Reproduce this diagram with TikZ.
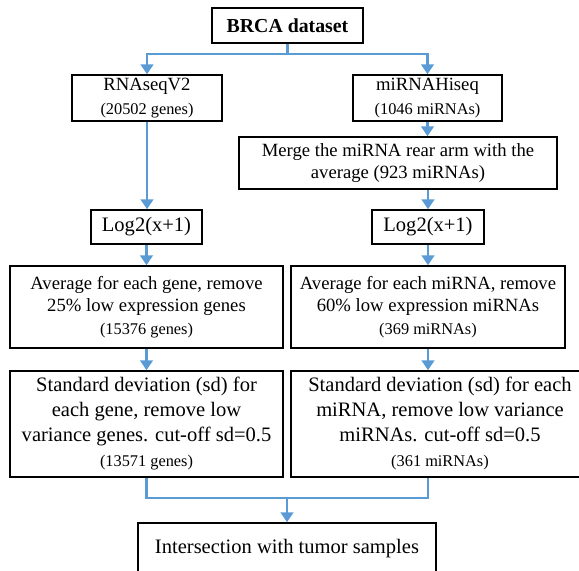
\documentclass[tikz,border=0pt]{standalone}
\usepackage{fontspec}
\setmainfont{Liberation Serif}
\usetikzlibrary{arrows.meta}
\definecolor{arrowblue}{HTML}{5B9BD5}
\newcommand{\px}[1]{#1*0.75pt}
\newcommand{\smalltxt}[1]{{\fontsize{12.25}{14}\selectfont #1}}
\begin{document}
\begin{tikzpicture}[x=0.75pt,y=-0.75pt,
  box/.style={draw=black, line width=1.1pt, fill=white, inner sep=0pt, align=center,
    font=\fontsize{14}{17}\selectfont},
  bigbox/.style={box, font=\fontsize{15.4}{18.75}\selectfont},
  arr/.style={draw=arrowblue, line width=1.8pt, -{Triangle[width=9.5pt,length=7.5pt]}},
  conn/.style={draw=arrowblue, line width=1.8pt}]
\useasboundingbox (0,0) rectangle (579,571);
\clip (0,0) rectangle (579,571);

\node[box, font=\bfseries\fontsize{14.85}{17}\selectfont, minimum width=\px{151}, minimum height=\px{35}] (brca) at (287.5,25.5) {BRCA dataset};

\node[box, font=\fontsize{14}{17.6}\selectfont, minimum width=\px{150}, minimum height=\px{46}] (rna) at (147,98) {RNAseqV2\\\smalltxt{(20502 genes)}};
\node[box, font=\fontsize{14}{17.6}\selectfont, minimum width=\px{149}, minimum height=\px{46}] (mir) at (427.5,98) {miRNAHiseq\\\smalltxt{(1046 miRNAs)}};

\node[box, font=\fontsize{14}{16.5}\selectfont, minimum width=\px{318}, minimum height=\px{52}] (merge) at (398,163) {Merge the miRNA rear arm with the\\average (923 miRNAs)};

\node[bigbox, minimum width=\px{111}, minimum height=\px{34}] (logL) at (146.5,227) {Log2(x+1)};
\node[bigbox, minimum width=\px{112}, minimum height=\px{34}] (logR) at (428,227) {Log2(x+1)};

\node[box, minimum width=\px{273}, minimum height=\px{82}] (avgL) at (146.5,307) {Average for each gene, remove\\25\% low expression genes\\\smalltxt{(15376 genes)}};
\node[box, minimum width=\px{274}, minimum height=\px{82}] (avgR) at (428,307) {Average for each miRNA, remove\\60\% low expression miRNAs\\\smalltxt{(369 miRNAs)}};

\node[bigbox, minimum width=\px{273}, minimum height=\px{106}] (sdL) at (146.5,424) {Standard deviation (sd) for\\each gene, remove low\\variance genes. cut-off sd=0.5\\\smalltxt{(13571 genes)}};
\node[bigbox, minimum width=\px{298}, minimum height=\px{106}] (sdR) at (440,424) {Standard deviation (sd) for each\\miRNA, remove low variance\\miRNAs. cut-off sd=0.5\\\smalltxt{(361 miRNAs)}};

\node[bigbox, minimum width=\px{298}, minimum height=\px{52}] (inter) at (287,549) {Intersection with tumor samples};

% top split
\coordinate (split) at (287.5,54);
\draw[conn] (brca.south) -- (split);
\draw[arr] (split) -| (rna.north);
\draw[arr] (split) -| (mir.north);

% left column
\draw[arr] (rna.south) -- (rna.south |- logL.north);
\draw[arr] (logL.south) -- (logL.south |- avgL.north);
\draw[arr] (avgL.south) -- (avgL.south |- sdL.north);

% right column
\draw[arr] (mir.south) -- (mir.south |- merge.north);
\draw[arr] (merge.south -| logR.north) -- (logR.north);
\draw[arr] (logR.south) -- (logR.south |- avgR.north);
\draw[arr] (avgR.south) -- (avgR.south |- sdR.north);

% join
\coordinate (join) at (287,498);
\draw[conn] (sdL.south) |- (join);
\draw[conn] (avgR.south |- sdR.south) |- (join);
\draw[arr] (join) -- (inter.north);
\end{tikzpicture}
\end{document}
